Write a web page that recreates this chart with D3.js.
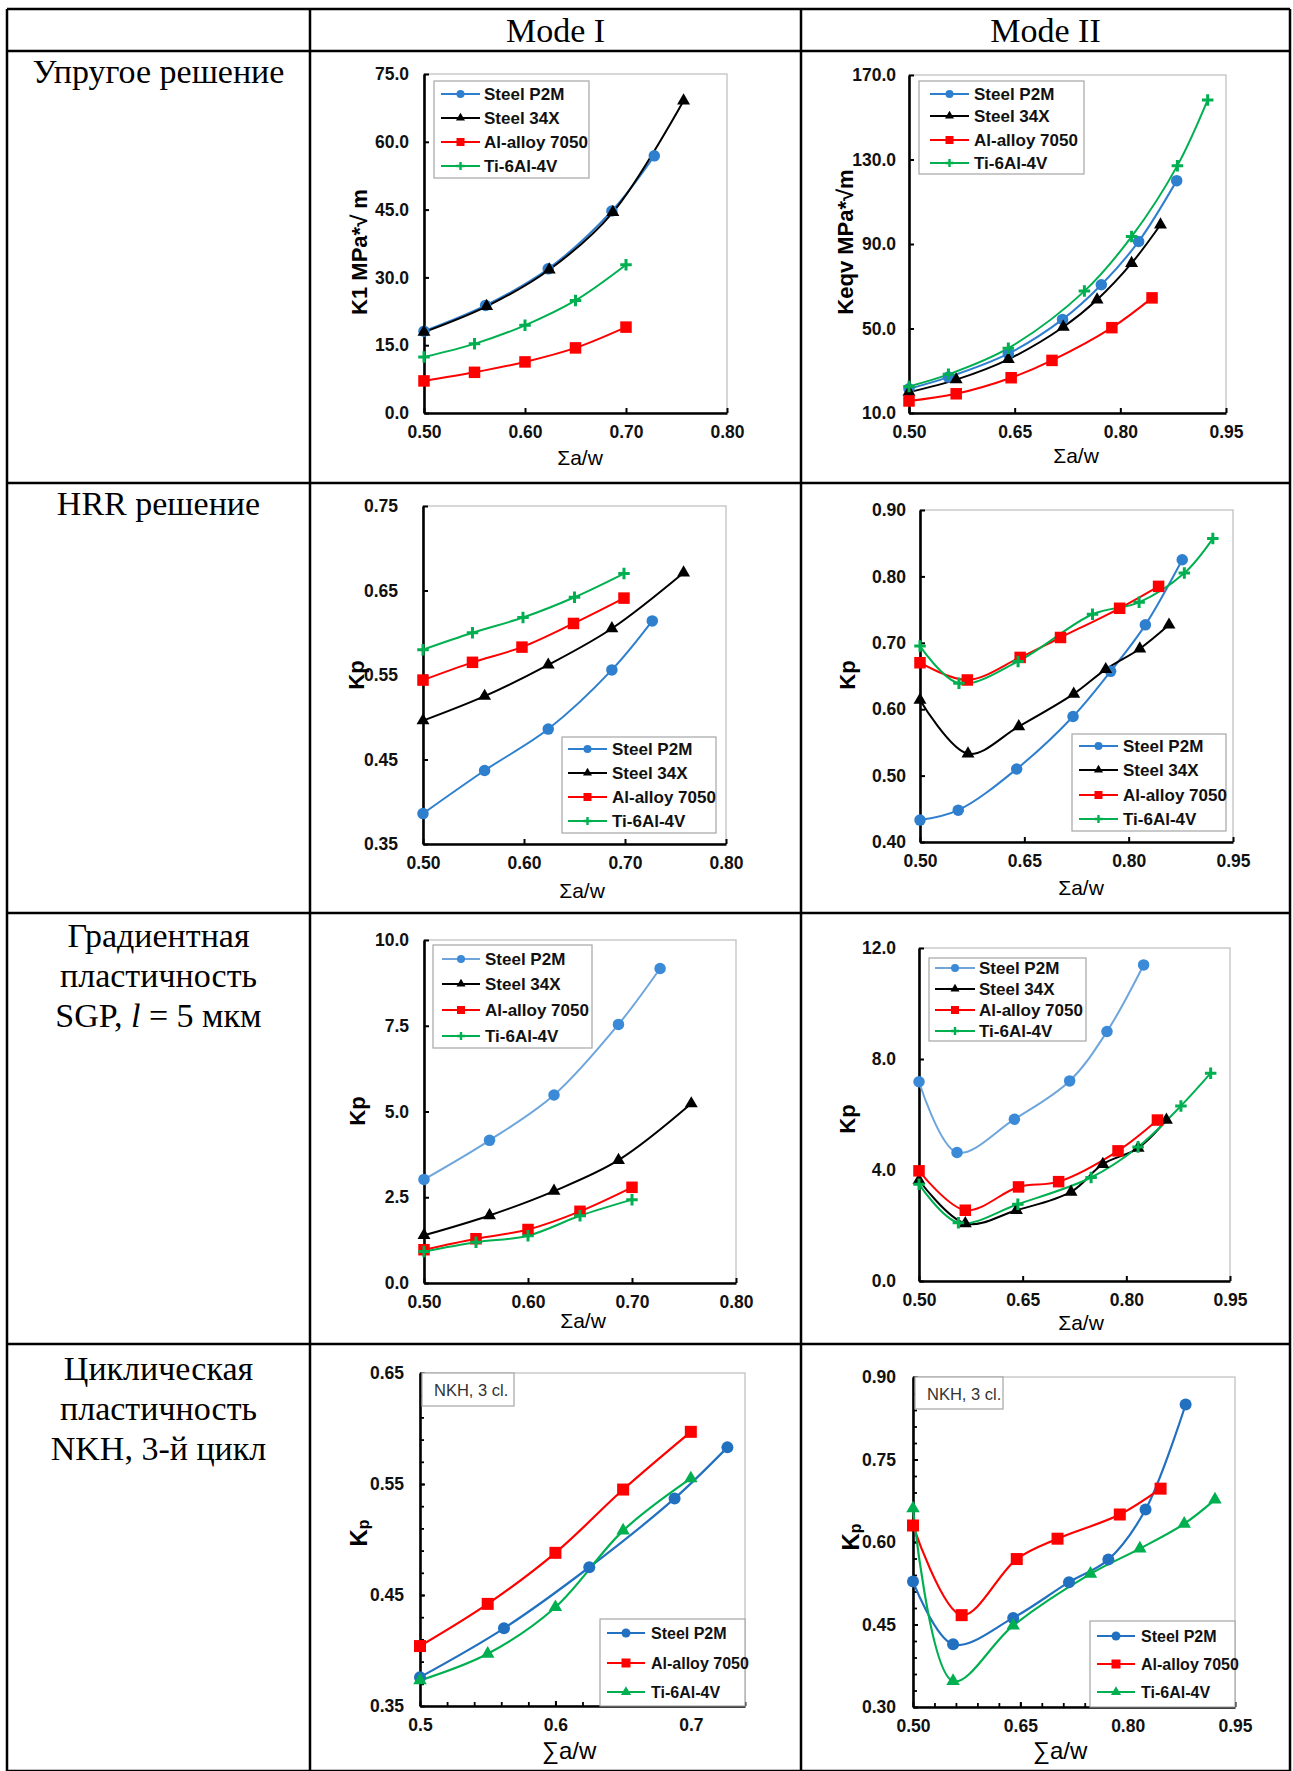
<!DOCTYPE html>
<html>
<head>
<meta charset="utf-8">
<script src="https://cdn.jsdelivr.net/npm/d3@7"></script>
<style>
  body { margin: 0; background: #fff; }
  svg { display: block; }
</style>
</head>
<body>
<script>
// ---- data ----
const materials = ["Steel P2M", "Steel 34X", "Al-alloy 7050", "Ti-6Al-4V"];
const headers = ["Mode I", "Mode II"];

// Elastic solution, K1 / Keqv
const elasticI_P2M = [[0.5, 18.1], [0.561, 23.8], [0.623, 31.9], [0.686, 44.7], [0.728, 56.9]];
const elasticI_34X = [[0.5, 17.9], [0.562, 23.6], [0.624, 31.7], [0.687, 44.4], [0.757, 69.1]];
const elasticI_Al = [[0.5, 7.1], [0.55, 9.0], [0.6, 11.3], [0.65, 14.4], [0.7, 19.0]];
const elasticI_Ti = [[0.5, 12.4], [0.55, 15.3], [0.6, 19.4], [0.65, 24.9], [0.7, 32.8]];

const elasticII_P2M = [[0.5, 21.5], [0.556, 27.0], [0.641, 38.1], [0.718, 54.3], [0.773, 70.7], [0.826, 91.2], [0.880, 120.0]];
const elasticII_34X = [[0.5, 19.9], [0.567, 25.8], [0.641, 35.4], [0.719, 50.7], [0.767, 63.6], [0.816, 80.9], [0.857, 99.1]];
const elasticII_Al = [[0.5, 15.7], [0.567, 19.1], [0.645, 26.7], [0.703, 34.9], [0.788, 50.4], [0.845, 64.5]];
const elasticII_Ti = [[0.5, 22.6], [0.556, 28.3], [0.641, 40.7], [0.749, 67.7], [0.816, 93.5], [0.881, 127.1], [0.924, 158.2]];

// HRR solution, Kp
const hrrI_P2M = [[0.5, 0.386], [0.561, 0.437], [0.624, 0.486], [0.687, 0.556], [0.727, 0.614]];
const hrrI_34X = [[0.5, 0.496], [0.561, 0.525], [0.624, 0.562], [0.687, 0.605], [0.758, 0.671]];
const hrrI_Al = [[0.5, 0.544], [0.549, 0.565], [0.598, 0.583], [0.649, 0.611], [0.699, 0.641]];
const hrrI_Ti = [[0.5, 0.580], [0.549, 0.600], [0.599, 0.618], [0.65, 0.642], [0.699, 0.670]];

const hrrII_P2M = [[0.5, 0.433], [0.555, 0.448], [0.639, 0.510], [0.720, 0.589], [0.774, 0.657], [0.824, 0.727], [0.877, 0.825]];
const hrrII_34X = [[0.5, 0.614], [0.569, 0.533], [0.642, 0.574], [0.721, 0.623], [0.767, 0.660], [0.816, 0.691], [0.858, 0.727]];
const hrrII_Al = [[0.5, 0.670], [0.568, 0.644], [0.644, 0.678], [0.702, 0.708], [0.787, 0.752], [0.843, 0.785]];
const hrrII_Ti = [[0.5, 0.695], [0.556, 0.639], [0.641, 0.672], [0.748, 0.743], [0.815, 0.761], [0.880, 0.805], [0.921, 0.857]];

// SGP, l = 5 um
const sgpI_P2M = [[0.5, 3.02], [0.563, 4.16], [0.625, 5.48], [0.687, 7.54], [0.727, 9.17]];
const sgpI_34X = [[0.5, 1.39], [0.563, 1.97], [0.625, 2.68], [0.687, 3.58], [0.757, 5.23]];
const sgpI_Al = [[0.5, 0.97], [0.55, 1.29], [0.6, 1.56], [0.65, 2.09], [0.7, 2.79]];
const sgpI_Ti = [[0.5, 0.92], [0.55, 1.19], [0.6, 1.38], [0.65, 1.96], [0.7, 2.43]];

const sgpII_P2M = [[0.5, 7.18], [0.555, 4.63], [0.638, 5.83], [0.718, 7.21], [0.772, 8.99], [0.825, 11.39]];
const sgpII_34X = [[0.5, 3.63], [0.567, 2.07], [0.641, 2.55], [0.72, 3.21], [0.766, 4.21], [0.817, 4.79], [0.858, 5.80]];
const sgpII_Al = [[0.5, 3.97], [0.567, 2.55], [0.644, 3.39], [0.702, 3.58], [0.788, 4.69], [0.845, 5.80]];
const sgpII_Ti = [[0.5, 3.49], [0.557, 2.10], [0.643, 2.77], [0.749, 3.73], [0.817, 4.83], [0.879, 6.31], [0.922, 7.49]];

// NKH, 3rd cycle
const nkhI_P2M = [[0.5, 0.376], [0.562, 0.420], [0.625, 0.475], [0.688, 0.537], [0.727, 0.583]];
const nkhI_Al = [[0.5, 0.404], [0.55, 0.442], [0.6, 0.488], [0.65, 0.545], [0.7, 0.597]];
const nkhI_Ti = [[0.5, 0.373], [0.55, 0.397], [0.6, 0.439], [0.65, 0.508], [0.7, 0.555]];

const nkhII_P2M = [[0.5, 0.528], [0.556, 0.414], [0.640, 0.462], [0.718, 0.527], [0.773, 0.568], [0.825, 0.659], [0.881, 0.850]];
const nkhII_Al = [[0.5, 0.630], [0.568, 0.467], [0.645, 0.569], [0.702, 0.606], [0.789, 0.650], [0.846, 0.697]];
const nkhII_Ti = [[0.5, 0.661], [0.556, 0.347], [0.640, 0.448], [0.748, 0.542], [0.817, 0.588], [0.879, 0.633], [0.922, 0.677]];

// tick values
const xTicksI = [0.5, 0.6, 0.7, 0.8];
const xTicksII = [0.5, 0.65, 0.8, 0.95];
const xTicksNkhI = [0.5, 0.6, 0.7];
const xMinorNkhI = d3.range(0.52, 0.745, 0.02);
const xMinorNkhII = d3.range(0.53, 0.95, 0.03);
const yTicksElasticI = [0, 15, 30, 45, 60, 75];
const yTicksElasticII = [10, 50, 90, 130, 170];
const yTicksHrrI = [0.35, 0.45, 0.55, 0.65, 0.75];
const yTicksHrrII = [0.4, 0.5, 0.6, 0.7, 0.8, 0.9];
const yTicksSgpI = [0, 2.5, 5, 7.5, 10];
const yTicksSgpII = [0, 4, 8, 12];
const yTicksNkhI = [0.35, 0.45, 0.55, 0.65];
const yMinorNkhI = d3.range(0.37, 0.65, 0.02);
const yTicksNkhII = [0.3, 0.45, 0.6, 0.75, 0.9];
const yMinorNkhII = d3.range(0.33, 0.9, 0.03);

const rowLabels = [
  ["Упругое решение"],
  ["HRR решение"],
  ["Градиентная", "пластичность", "SGP, |l| = 5 мкм"],
  ["Циклическая", "пластичность", "NKH, 3-й цикл"]
];

// ---- page ----
const W = 1293, H = 1771;
const SANS = "'Liberation Sans', Arial, sans-serif";
const SERIF = "'Liberation Serif', 'Times New Roman', serif";

const svg = d3.select("body").append("svg")
  .attr("width", W).attr("height", H)
  .attr("viewBox", `0 0 ${W} ${H}`);

svg.append("rect").attr("width", W).attr("height", H).attr("fill", "#fff");

// table grid
const colX = [7, 310, 801, 1290];
const rowY = [9, 51, 483, 913, 1344, 1771];
const grid = svg.append("g").attr("stroke", "#000").attr("stroke-width", 2.5);
colX.forEach(x => grid.append("line").attr("x1", x).attr("x2", x).attr("y1", rowY[0]).attr("y2", H));
rowY.forEach(y => grid.append("line").attr("x1", colX[0]).attr("x2", colX[3]).attr("y1", y).attr("y2", y));

headers.forEach((h, i) => {
  svg.append("text")
    .attr("x", (colX[i + 1] + colX[i + 2]) / 2).attr("y", 42)
    .attr("text-anchor", "middle")
    .attr("font-family", SERIF).attr("font-size", 34)
    .text(h);
});

const labelBase = [83, 515, 947, 1380];
rowLabels.forEach((lines, r) => {
  lines.forEach((ln, k) => {
    const t = svg.append("text")
      .attr("x", (colX[0] + colX[1]) / 2)
      .attr("y", labelBase[r] + k * 40)
      .attr("text-anchor", "middle")
      .attr("font-family", SERIF).attr("font-size", 34);
    ln.split("|").forEach((part, j) => {
      t.append("tspan").attr("font-style", j === 1 ? "italic" : null).text(part);
    });
  });
});

// ---- chart helpers ----
const BLUE = "#2f7fcf", BLACK = "#000", RED = "#ff0000", GREEN = "#00b050";

function drawMarker(g, type, color, s) {
  if (type === "circle") {
    g.append("circle").attr("r", s * 0.5).attr("fill", color);
  } else if (type === "square") {
    g.append("rect").attr("x", -s / 2).attr("y", -s / 2).attr("width", s).attr("height", s).attr("fill", color);
  } else if (type === "triangle") {
    g.append("path").attr("d", d3.symbol(d3.symbolTriangle, s * s * 0.55)()).attr("fill", color);
  } else if (type === "plus") {
    g.append("path").attr("d", `M${-s / 2},0H${s / 2}M0,${-s / 2}V${s / 2}`)
      .attr("stroke", color).attr("stroke-width", s > 9 ? 3 : 2.4).attr("fill", "none");
  }
}

function drawChart(c) {
  const g = svg.append("g");
  const x = d3.scaleLinear().domain(c.xDomain).range([c.x0, c.x1]);
  const y = d3.scaleLinear().domain(c.yDomain).range([c.y1, c.y0]);

  // plot frame (grey)
  g.append("rect")
    .attr("x", c.x0).attr("y", c.y0)
    .attr("width", c.x1 - c.x0).attr("height", c.y1 - c.y0)
    .attr("fill", "none").attr("stroke", "#bdbdbd").attr("stroke-width", 1.2);

  // minor ticks
  if (c.xMinor) {
    g.append("g").attr("transform", `translate(0,${c.y1})`)
      .call(d3.axisBottom(x).tickValues(c.xMinor).tickFormat("").tickSize(-4).tickSizeOuter(0))
      .call(a => a.select(".domain").remove())
      .call(a => a.selectAll(".tick line").attr("stroke-width", 1.8));
  }
  if (c.yMinor) {
    g.append("g").attr("transform", `translate(${c.x0},0)`)
      .call(d3.axisLeft(y).tickValues(c.yMinor).tickFormat("").tickSize(-4).tickSizeOuter(0))
      .call(a => a.select(".domain").remove())
      .call(a => a.selectAll(".tick line").attr("stroke-width", 1.8));
  }

  const styleAxis = a => {
    a.attr("font-family", SANS).attr("font-size", 17.5).attr("font-weight", "bold");
    a.select(".domain").attr("stroke", "#000").attr("stroke-width", 2.6);
    a.selectAll(".tick line").attr("stroke-width", 2);
    a.selectAll(".tick text").attr("fill", "#111");
  };

  g.append("g").attr("transform", `translate(0,${c.y1})`)
    .call(d3.axisBottom(x).tickValues(c.xTicks).tickFormat(d3.format(c.xFmt))
      .tickSize(-5).tickSizeOuter(0).tickPadding(12.5))
    .call(styleAxis);

  g.append("g").attr("transform", `translate(${c.x0},0)`)
    .call(d3.axisLeft(y).tickValues(c.yTicks).tickFormat(d3.format(c.yFmt))
      .tickSize(-5).tickSizeOuter(0).tickPadding(c.yGap))
    .call(styleAxis);

  // axis titles
  const yl = g.append("text")
    .attr("transform", `translate(${c.x0 - c.yLabelDx},${c.yLabelY}) rotate(-90)`)
    .attr("text-anchor", "middle").attr("dominant-baseline", "central")
    .attr("font-family", SANS).attr("font-weight", "bold").attr("font-size", 22);
  if (c.yLabelSub) {
    yl.append("tspan").attr("font-size", 24).text(c.yLabel);
    yl.append("tspan").attr("font-size", 16).attr("dy", 5).text(c.yLabelSub);
  } else {
    yl.text(c.yLabel);
  }

  g.append("text")
    .attr("x", c.xLabelX).attr("y", c.xLabelY)
    .attr("text-anchor", "middle")
    .attr("font-family", SANS).attr("font-size", c.xLabelSize)
    .text(c.xLabel);

  // series
  const line = d3.line()
    .x(d => x(d[0])).y(d => y(d[1]))
    .curve(d3.curveCatmullRom.alpha(0.5));

  c.series.forEach(s => {
    g.append("path").datum(s.data)
      .attr("d", line)
      .attr("fill", "none")
      .attr("stroke", s.lineColor || s.color)
      .attr("stroke-width", c.lineWidth);
  });
  c.series.forEach(s => {
    s.data.forEach(d => {
      const m = g.append("g").attr("transform", `translate(${x(d[0])},${y(d[1])})`);
      drawMarker(m, s.marker, s.color, c.markerSize);
    });
  });

  // legend
  const L = c.legend;
  const lg = g.append("g");
  lg.append("rect").attr("x", L.x).attr("y", L.y).attr("width", L.w).attr("height", L.h)
    .attr("fill", "#fff").attr("stroke", "#a6a6a6").attr("stroke-width", 1.2);
  c.series.forEach((s, i) => {
    const yy = L.rows[i];
    lg.append("line").attr("x1", L.sx0).attr("x2", L.sx1).attr("y1", yy).attr("y2", yy)
      .attr("stroke", s.lineColor || s.color).attr("stroke-width", 2.2);
    const m = lg.append("g").attr("transform", `translate(${(L.sx0 + L.sx1) / 2},${yy})`);
    drawMarker(m, s.marker, s.color, L.marker);
    lg.append("text").attr("x", L.tx).attr("y", yy).attr("dy", "0.36em")
      .attr("font-family", SANS).attr("font-weight", "bold").attr("font-size", L.font)
      .attr("fill", "#111")
      .text(s.name);
  });

  if (c.note) {
    const n = c.note;
    g.append("rect").attr("x", n.x).attr("y", n.y).attr("width", n.w).attr("height", n.h)
      .attr("fill", "#fff").attr("stroke", "#a6a6a6").attr("stroke-width", 1.2);
    g.append("text").attr("x", n.x + 12).attr("y", n.y + 23)
      .attr("font-family", SANS).attr("font-size", 16.5).attr("fill", "#333")
      .text(n.text);
  }
}

const four = (a, b, cc, d, blue) => [
  { name: materials[0], data: a, color: blue || BLUE, lineColor: blue ? "#6ea6dc" : null, marker: "circle" },
  { name: materials[1], data: b, color: BLACK, marker: "triangle" },
  { name: materials[2], data: cc, color: RED, marker: "square" },
  { name: materials[3], data: d, color: GREEN, marker: "plus" }
];
const three = (a, b, cc) => [
  { name: materials[0], data: a, color: "#2270c0", marker: "circle" },
  { name: materials[2], data: b, color: RED, marker: "square" },
  { name: materials[3], data: cc, color: GREEN, marker: "triangle" }
];

const base13 = { lineWidth: 2, markerSize: 11.5, xLabel: "Σa/w", xLabelSize: 21 };

// row 1
drawChart(Object.assign({}, base13, {
  x0: 424, x1: 727, y0: 74, y1: 413,
  xDomain: [0.5, 0.8], yDomain: [0, 75], xTicks: xTicksI, yTicks: yTicksElasticI,
  xFmt: ".2f", yFmt: ".1f", yGap: 15,
  yLabel: "K1 MPa*√ m", yLabelDx: 65, yLabelY: 252, xLabelX: 580, xLabelY: 465,
  series: four(elasticI_P2M, elasticI_34X, elasticI_Al, elasticI_Ti),
  legend: { x: 434, y: 81, w: 155, h: 97, rows: [94, 118, 142, 166], sx0: 441, sx1: 480, tx: 484, marker: 8, font: 17 }
}));
drawChart(Object.assign({}, base13, {
  x0: 909, x1: 1226, y0: 75, y1: 413,
  xDomain: [0.5, 0.95], yDomain: [10, 170], xTicks: xTicksII, yTicks: yTicksElasticII,
  xFmt: ".2f", yFmt: ".1f", yGap: 13,
  yLabel: "Keqv MPa*√m", yLabelDx: 64, yLabelY: 242, xLabelX: 1076, xLabelY: 463,
  series: four(elasticII_P2M, elasticII_34X, elasticII_Al, elasticII_Ti),
  legend: { x: 919, y: 81, w: 165, h: 93, rows: [94, 116, 140, 163], sx0: 930, sx1: 969, tx: 974, marker: 8, font: 17 }
}));

// row 2
drawChart(Object.assign({}, base13, {
  x0: 423, x1: 726, y0: 506, y1: 844,
  xDomain: [0.5, 0.8], yDomain: [0.35, 0.75], xTicks: xTicksI, yTicks: yTicksHrrI,
  xFmt: ".2f", yFmt: ".2f", yGap: 25,
  yLabel: "Kp", yLabelDx: 67, yLabelY: 675, xLabelX: 582, xLabelY: 898,
  series: four(hrrI_P2M, hrrI_34X, hrrI_Al, hrrI_Ti),
  legend: { x: 562, y: 737, w: 154, h: 96, rows: [749, 773, 797, 821], sx0: 568, sx1: 607, tx: 612, marker: 8, font: 17 }
}));
drawChart(Object.assign({}, base13, {
  x0: 920, x1: 1233, y0: 510, y1: 842,
  xDomain: [0.5, 0.95], yDomain: [0.4, 0.9], xTicks: xTicksII, yTicks: yTicksHrrII,
  xFmt: ".2f", yFmt: ".2f", yGap: 14,
  yLabel: "Kp", yLabelDx: 73, yLabelY: 675, xLabelX: 1081, xLabelY: 895,
  series: four(hrrII_P2M, hrrII_34X, hrrII_Al, hrrII_Ti),
  legend: { x: 1072, y: 734, w: 154, h: 97, rows: [746, 770, 795, 819], sx0: 1079, sx1: 1118, tx: 1123, marker: 8, font: 17 }
}));

// row 3
drawChart(Object.assign({}, base13, {
  x0: 424, x1: 736, y0: 940, y1: 1283,
  xDomain: [0.5, 0.8], yDomain: [0, 10], xTicks: xTicksI, yTicks: yTicksSgpI,
  xFmt: ".2f", yFmt: ".1f", yGap: 15,
  yLabel: "Kp", yLabelDx: 67, yLabelY: 1111, xLabelX: 583, xLabelY: 1328,
  series: four(sgpI_P2M, sgpI_34X, sgpI_Al, sgpI_Ti, "#3a8ad8"),
  legend: { x: 433, y: 945, w: 159, h: 103, rows: [959, 984, 1010, 1036], sx0: 442, sx1: 480, tx: 485, marker: 8, font: 17 }
}));
drawChart(Object.assign({}, base13, {
  x0: 919, x1: 1230, y0: 948, y1: 1281,
  xDomain: [0.5, 0.95], yDomain: [0, 12], xTicks: xTicksII, yTicks: yTicksSgpII,
  xFmt: ".2f", yFmt: ".1f", yGap: 23,
  yLabel: "Kp", yLabelDx: 72, yLabelY: 1119, xLabelX: 1081, xLabelY: 1330,
  series: four(sgpII_P2M, sgpII_34X, sgpII_Al, sgpII_Ti, "#3a8ad8"),
  legend: { x: 929, y: 958, w: 157, h: 83, rows: [968, 989, 1010, 1031], sx0: 935, sx1: 975, tx: 979, marker: 8, font: 17 }
}));

// row 4
const base4 = { lineWidth: 2.2, markerSize: 12, xLabel: "∑a/w", xLabelSize: 24, yLabel: "K", yLabelSub: "p" };
drawChart(Object.assign({}, base4, {
  x0: 420, x1: 745, y0: 1373, y1: 1706,
  xDomain: [0.5, 0.74], yDomain: [0.35, 0.65], xTicks: xTicksNkhI, yTicks: yTicksNkhI,
  xMinor: xMinorNkhI, yMinor: yMinorNkhI,
  xFmt: ".1f", yFmt: ".2f", yGap: 16,
  yLabelDx: 62, yLabelY: 1533, xLabelX: 569, xLabelY: 1759,
  series: three(nkhI_P2M, nkhI_Al, nkhI_Ti),
  legend: { x: 600, y: 1619, w: 145, h: 87, rows: [1633, 1663, 1692], sx0: 607, sx1: 645, tx: 651, marker: 9, font: 16 },
  note: { x: 422, y: 1373, w: 92, h: 33, text: "NKH, 3 cl." }
}));
drawChart(Object.assign({}, base4, {
  x0: 913, x1: 1235, y0: 1377, y1: 1707,
  xDomain: [0.5, 0.95], yDomain: [0.3, 0.9], xTicks: xTicksII, yTicks: yTicksNkhII,
  xMinor: xMinorNkhII, yMinor: yMinorNkhII,
  xFmt: ".2f", yFmt: ".2f", yGap: 17,
  yLabelDx: 63, yLabelY: 1537, xLabelX: 1060, xLabelY: 1759,
  series: three(nkhII_P2M, nkhII_Al, nkhII_Ti),
  legend: { x: 1090, y: 1621, w: 145, h: 86, rows: [1636, 1664, 1692], sx0: 1097, sx1: 1135, tx: 1141, marker: 9, font: 16 },
  note: { x: 915, y: 1377, w: 88, h: 32, text: "NKH, 3 cl." }
}));
</script>
</body>
</html>
